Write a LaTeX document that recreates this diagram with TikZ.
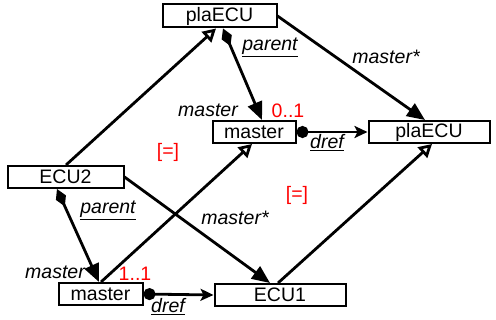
\documentclass[tikz,border=0pt]{standalone}
\usepackage{fontspec}
\setmainfont{Liberation Sans}
\usetikzlibrary{arrows.meta}

\begin{document}
\begin{tikzpicture}[x=1pt, y=-1pt,
    font=\fontsize{19.5}{22}\selectfont,
    cls/.style={draw, line width=2pt, inner sep=0pt, minimum height=22pt},
    lbl/.style={font=\fontsize{19.5}{22}\selectfont\itshape},
    red lbl/.style={text=red},
    link/.style={line width=2.8pt},
    inh/.style={link, -{Triangle[open, length=13pt, width=14pt, fill=white]}},
    ass/.style={link, -{Triangle[length=18pt, width=15pt]}},
    comp/.style={link, {Diamond[length=19pt, width=11pt]}-{Triangle[length=18pt, width=15pt]}},
    dref/.style={link, {Circle[length=12pt]}-{Stealth[length=13pt, width=12pt, inset=3pt]}}]
        \useasboundingbox (0, 0) rectangle (496, 320);
        \node[cls, minimum width=114pt, minimum height=23pt] (plaA) at (219.5, 16) {plaECU};
        \node[cls, minimum width=83pt] (mstA) at (254, 132) {master};
        \node[cls, minimum width=121pt] (plaB) at (429, 132) {plaECU};
        \node[cls, minimum width=116pt] (ecuB) at (65.5, 177) {ECU2};
        \node[cls, minimum width=84pt] (mstB) at (100.5, 294) {master};
        \node[cls, minimum width=131pt] (ecuA) at (280, 295) {ECU1};

        \draw[inh] ([xshift=0.5pt]ecuB.north) -- ([xshift=-3.5pt]plaA.south);
        \draw[comp] ([xshift=3.5pt]plaA.south) -- ([xshift=8pt]mstA.north);
        \draw[ass] (plaA.east) -- ([xshift=-4pt]plaB.north);
        \draw[dref] (mstA.east) -- (plaB.west);
        \draw[inh] ([xshift=0.5pt]mstB.north) -- ([xshift=-2pt]mstA.south);
        \draw[inh] ([xshift=-2pt]ecuA.north) -- ([xshift=3pt]plaB.south);
        \draw[ass] (ecuB.east) -- ([xshift=-10pt]ecuA.north);
        \draw[comp] ([xshift=-8.5pt]ecuB.south) -- ([xshift=-1.5pt]mstB.north);
        \draw[dref] (mstB.east) -- (ecuA.west);

        \node[lbl] (parA) at (270, 47) {\underline{parent}};
        \node[lbl] (msA) at (386, 57) {master*};
        \node[lbl] (rolA) at (208, 110) {master};
        \node[red lbl] (mulA) at (288, 111) {0..1};
        \node[lbl] (drA) at (327, 143) {\underline{dref}};
        \node[red lbl] (eqA) at (168, 152) {[=]};
        \node[red lbl] (eqB) at (297, 195) {[=]};
        \node[lbl] (parB) at (108, 210) {\underline{parent}};
        \node[lbl] (msB) at (235, 218) {master*};
        \node[lbl] (rolB) at (55, 272) {master};
        \node[red lbl] (mulB) at (135, 274) {1..1};
        \node[lbl] (drB) at (168, 307) {\underline{dref}};
\end{tikzpicture}
\end{document}
